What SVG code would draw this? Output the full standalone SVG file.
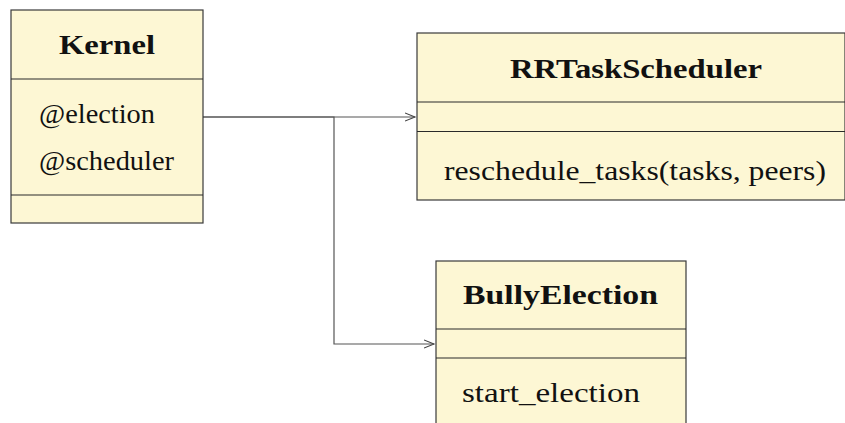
<svg xmlns="http://www.w3.org/2000/svg" width="845" height="423" viewBox="0 0 845 423">
  <style>
    .box { fill: #fdf7d4; stroke: #3a3a3a; stroke-width: 1.2; }
    .sep { stroke: #2a2a2a; stroke-width: 1.2; }
    .title { font-family: "Liberation Serif", "DejaVu Serif", serif; font-weight: bold; font-size: 28px; fill: #111; }
    .member { font-family: "Liberation Serif", "DejaVu Serif", serif; font-size: 28px; fill: #111; }
    .conn { fill: none; stroke: #555; stroke-width: 1.2; }
  </style>
  <defs>
    <marker id="open-arrow" markerWidth="12" markerHeight="10" refX="10" refY="5" orient="auto" markerUnits="userSpaceOnUse">
      <path d="M0,1 L10,5 L0,9" fill="none" stroke="#444" stroke-width="1.1"/>
    </marker>
  </defs>

  <!-- connectors -->
  <g id="connectors">
    <path class="conn" d="M203,117 H415" marker-end="url(#open-arrow)"/>
    <path class="conn" d="M203,117 H334 V344 H434" marker-end="url(#open-arrow)"/>
  </g>

  <!-- Kernel class -->
  <g id="kernel">
    <rect class="box" x="11" y="10" width="192" height="213"/>
    <line class="sep" x1="11" y1="79" x2="203" y2="79"/>
    <line class="sep" x1="11" y1="195" x2="203" y2="195"/>
    <text class="title" x="59" y="54" textLength="96" lengthAdjust="spacingAndGlyphs">Kernel</text>
    <text class="member" x="39" y="123" textLength="116" lengthAdjust="spacingAndGlyphs">@election</text>
    <text class="member" x="39" y="170" textLength="135" lengthAdjust="spacingAndGlyphs">@scheduler</text>
  </g>

  <!-- RRTaskScheduler class -->
  <g id="rr-task-scheduler">
    <rect class="box" x="417" y="33" width="428" height="167"/>
    <line class="sep" x1="417" y1="102" x2="845" y2="102"/>
    <line class="sep" x1="417" y1="131.5" x2="845" y2="131.5"/>
    <text class="title" x="510" y="77.5" textLength="252" lengthAdjust="spacingAndGlyphs">RRTaskScheduler</text>
    <text class="member" x="444" y="180" textLength="382" lengthAdjust="spacingAndGlyphs">reschedule_tasks(tasks, peers)</text>
  </g>

  <!-- BullyElection class -->
  <g id="bully-election">
    <rect class="box" x="436" y="261" width="250" height="170"/>
    <line class="sep" x1="436" y1="329" x2="686" y2="329"/>
    <line class="sep" x1="436" y1="358" x2="686" y2="358"/>
    <text class="title" x="463" y="304" textLength="195" lengthAdjust="spacingAndGlyphs">BullyElection</text>
    <text class="member" x="462" y="401.5" textLength="178" lengthAdjust="spacingAndGlyphs">start_election</text>
  </g>
</svg>
